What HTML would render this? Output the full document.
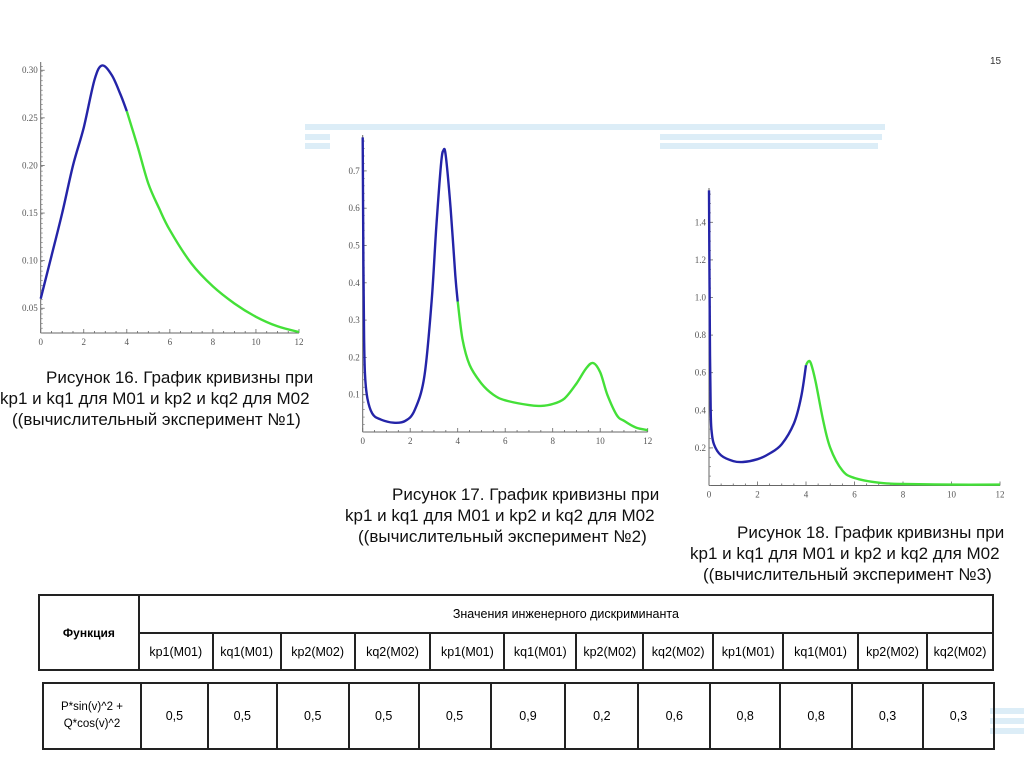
<!DOCTYPE html>
<html><head><meta charset="utf-8">
<style>
body{margin:0;background:#fff;}
#page{position:relative;width:1024px;height:767px;overflow:hidden;background:#fff;font-family:"Liberation Sans",sans-serif;}
.cap{position:absolute;font-size:17px;color:#111;white-space:nowrap;}
.stripe{position:absolute;background:#dcedf7;height:6px;}
table{border-collapse:collapse;position:absolute;font-family:"Liberation Sans",sans-serif;font-size:12.5px;}
td{border:2px solid #222;text-align:center;padding:0;}
svg text{font-family:"Liberation Serif",serif;font-size:9px;fill:#555;}
</style></head><body>
<div id="page">
<div class="stripe" style="left:305px;top:124px;width:580px"></div>
<div class="stripe" style="left:305px;top:134px;width:25px"></div>
<div class="stripe" style="left:305px;top:143px;width:25px"></div>
<div class="stripe" style="left:660px;top:134px;width:222px"></div>
<div class="stripe" style="left:660px;top:143px;width:218px"></div>
<div class="stripe" style="left:990px;top:708px;width:34px"></div>
<div class="stripe" style="left:990px;top:718px;width:34px"></div>
<div class="stripe" style="left:990px;top:728px;width:34px"></div>
<div style="position:absolute;left:990px;top:56px;font-size:10px;color:#333">15</div>

<svg id="svg" width="1024" height="767" style="position:absolute;left:0;top:0"></svg>

<div class="cap" style="left:46px;top:368px">Рисунок 16. График кривизны при</div>
<div class="cap" style="left:0px;top:389px">kp1 и kq1 для M01 и kp2 и kq2 для M02</div>
<div class="cap" style="left:12px;top:410px">((вычислительный эксперимент №1)</div>
<div class="cap" style="left:392px;top:485px">Рисунок 17. График кривизны при</div>
<div class="cap" style="left:345px;top:506px">kp1 и kq1 для M01 и kp2 и kq2 для M02</div>
<div class="cap" style="left:358px;top:527px">((вычислительный эксперимент №2)</div>
<div class="cap" style="left:737px;top:523px">Рисунок 18. График кривизны при</div>
<div class="cap" style="left:690px;top:544px">kp1 и kq1 для M01 и kp2 и kq2 для M02</div>
<div class="cap" style="left:703px;top:565px">((вычислительный эксперимент №3)</div>

<table style="left:38px;top:594px;width:956px;height:77px">
<colgroup><col style="width:100px"><col style="width:74px"><col style="width:68px"><col style="width:74px"><col style="width:76px"><col style="width:74px"><col style="width:72px"><col style="width:67px"><col style="width:70px"><col style="width:70px"><col style="width:75px"><col style="width:69px"><col style="width:66px"></colgroup>
<tr style="height:38px"><td rowspan="2" style="font-weight:bold;font-size:12px">Функция</td><td colspan="12">Значения инженерного дискриминанта</td></tr>
<tr><td>kp1(M01)</td><td>kq1(M01)</td><td>kp2(M02)</td><td>kq2(M02)</td><td>kp1(M01)</td><td>kq1(M01)</td><td>kp2(M02)</td><td>kq2(M02)</td><td>kp1(M01)</td><td>kq1(M01)</td><td>kp2(M02)</td><td>kq2(M02)</td></tr>
</table>
<table style="left:42px;top:682px;width:953px;height:68px">
<colgroup><col style="width:98px"><col style="width:67px"><col style="width:69px"><col style="width:72px"><col style="width:70px"><col style="width:72px"><col style="width:75px"><col style="width:73px"><col style="width:72px"><col style="width:70px"><col style="width:72px"><col style="width:71px"><col style="width:71px"></colgroup>
<tr><td style="font-size:11.5px;line-height:17px">P*sin(v)^2 +<br>Q*cos(v)^2</td><td>0,5</td><td>0,5</td><td>0,5</td><td>0,5</td><td>0,5</td><td>0,9</td><td>0,2</td><td>0,6</td><td>0,8</td><td>0,8</td><td>0,3</td><td>0,3</td></tr>
</table>
</div>
<script>
// Chart 1 data
const c1BlueX=[0,0.5,1,1.5,2,2.5,2.85,3.3,3.7,4];
const c1BlueY=[0.06,0.105,0.15,0.2,0.24,0.29,0.305,0.295,0.275,0.257];
const c1GreenX=[4,4.5,5,5.5,6,7,8,9,10,11,12];
const c1GreenY=[0.257,0.22,0.181,0.155,0.132,0.097,0.073,0.055,0.041,0.031,0.025];
const c1YTicks=[0.05,0.10,0.15,0.20,0.25,0.30];
const c1YLabels=["0.05","0.10","0.15","0.20","0.25","0.30"];
// Chart 2 data
const c2BlueX=[0,0.03,0.06,0.1,0.2,0.4,0.7,1.3,1.8,2.2,2.6,2.9,3.1,3.3,3.4,3.5,3.7,3.9,4];
const c2BlueY=[0.79,0.45,0.25,0.15,0.09,0.05,0.035,0.025,0.03,0.06,0.15,0.35,0.55,0.72,0.755,0.74,0.6,0.42,0.35];
const c2GreenX=[4,4.2,4.5,5,5.5,6,7,7.5,8,8.5,9,9.4,9.7,10,10.3,10.7,11,11.5,12];
const c2GreenY=[0.35,0.25,0.18,0.13,0.1,0.085,0.072,0.07,0.075,0.09,0.13,0.17,0.185,0.16,0.1,0.045,0.03,0.012,0.005];
const c2YTicks=[0.1,0.2,0.3,0.4,0.5,0.6,0.7];
const c2YLabels=["0.1","0.2","0.3","0.4","0.5","0.6","0.7"];
// Chart 3 data
const c3BlueX=[0,0.02,0.04,0.07,0.1,0.2,0.5,1,1.4,2,2.5,3,3.5,3.8,4];
const c3BlueY=[1.57,1.1,0.7,0.4,0.3,0.22,0.16,0.13,0.125,0.14,0.17,0.22,0.33,0.47,0.64];
const c3GreenX=[4,4.1,4.2,4.4,4.7,5,5.5,6,7,8,10,12];
const c3GreenY=[0.64,0.66,0.65,0.55,0.35,0.2,0.08,0.04,0.015,0.008,0.005,0.005];
const c3YTicks=[0.2,0.4,0.6,0.8,1.0,1.2,1.4];
const c3YLabels=["0.2","0.4","0.6","0.8","1.0","1.2","1.4"];
const xTicks=[0,2,4,6,8,10,12];
const xLabels=["0","2","4","6","8","10","12"];

const svg=document.getElementById('svg');
const NS='http://www.w3.org/2000/svg';
function mk(tag,attrs){const e=document.createElementNS(NS,tag);for(const k in attrs)e.setAttribute(k,attrs[k]);svg.appendChild(e);return e;}
function smooth(pts){let d='M'+pts[0][0]+','+pts[0][1];
 for(let i=0;i<pts.length-1;i++){const p0=pts[Math.max(0,i-1)],p1=pts[i],p2=pts[i+1],p3=pts[Math.min(pts.length-1,i+2)];
  const c1x=p1[0]+(p2[0]-p0[0])/6,c1y=p1[1]+(p2[1]-p0[1])/6,c2x=p2[0]-(p3[0]-p1[0])/6,c2y=p2[1]-(p3[1]-p1[1])/6;
  d+=' C'+c1x.toFixed(1)+','+c1y.toFixed(1)+' '+c2x.toFixed(1)+','+c2y.toFixed(1)+' '+p2[0].toFixed(1)+','+p2[1].toFixed(1);}
 return d;}
function chart(name,x0,x1,yBase,yMinV,pxPerUnitY,yTop,yTicks,yLabels,series,minorY){
 const sx=v=>x0+(x1-x0)*v/12, sy=v=>yBase-(v-yMinV)*pxPerUnitY;
 let a=mk('line',{x1:x0,y1:yBase,x2:x1,y2:yBase,stroke:'#666','stroke-width':1});
 
 
 a=mk('line',{x1:x0,y1:yBase,x2:x0,y2:yTop,stroke:'#666','stroke-width':1});
 
 
 for(let v=0;v<=12.001;v+=0.5){const major=Math.abs(v%2)<0.01;
  const t=mk('line',{x1:sx(v),y1:yBase,x2:sx(v),y2:yBase-(major?4:2),stroke:'#666','stroke-width':0.8});
  
  }
 xTicks.forEach((v,i)=>{const t=mk('text',{x:sx(v),y:yBase+12,'text-anchor':'middle'});t.textContent=xLabels[i];
  
  });
 for(let v=yMinV;sy(v)>=yTop;v+=minorY){const t=mk('line',{x1:x0,y1:sy(v),x2:x0+2,y2:sy(v),stroke:'#777','stroke-width':0.7});
  
  }
 yTicks.forEach((v,i)=>{mk('line',{x1:x0,y1:sy(v),x2:x0+4,y2:sy(v),stroke:'#666','stroke-width':0.8});
  const t=mk('text',{x:x0-3,y:sy(v)+3,'text-anchor':'end'});t.textContent=yLabels[i];
  
  });
 series.forEach(s=>{const pts=s.x.map((v,i)=>[sx(v),sy(s.y[i])]);
  const p=mk('path',{d:smooth(pts),fill:'none',stroke:s.c,'stroke-width':2.4,'stroke-linejoin':'round'});
  
  });
}
chart('chart1',40.7,299,333,0.024,952,62,c1YTicks,c1YLabels,
 [{x:c1GreenX,y:c1GreenY,c:'#44e038',n:'green-curve'},{x:c1BlueX,y:c1BlueY,c:'#2424a8',n:'blue-curve'}],0.005);
chart('chart2',362.7,647.7,432,0,373,135,c2YTicks,c2YLabels,
 [{x:c2GreenX,y:c2GreenY,c:'#44e038',n:'green-curve'},{x:c2BlueX,y:c2BlueY,c:'#2424a8',n:'blue-curve'}],0.02);
chart('chart3',709,1000,485.5,0,188,188,c3YTicks,c3YLabels,
 [{x:c3GreenX,y:c3GreenY,c:'#44e038',n:'green-curve'},{x:c3BlueX,y:c3BlueY,c:'#2424a8',n:'blue-curve'}],0.05);
</script>
</body></html>
